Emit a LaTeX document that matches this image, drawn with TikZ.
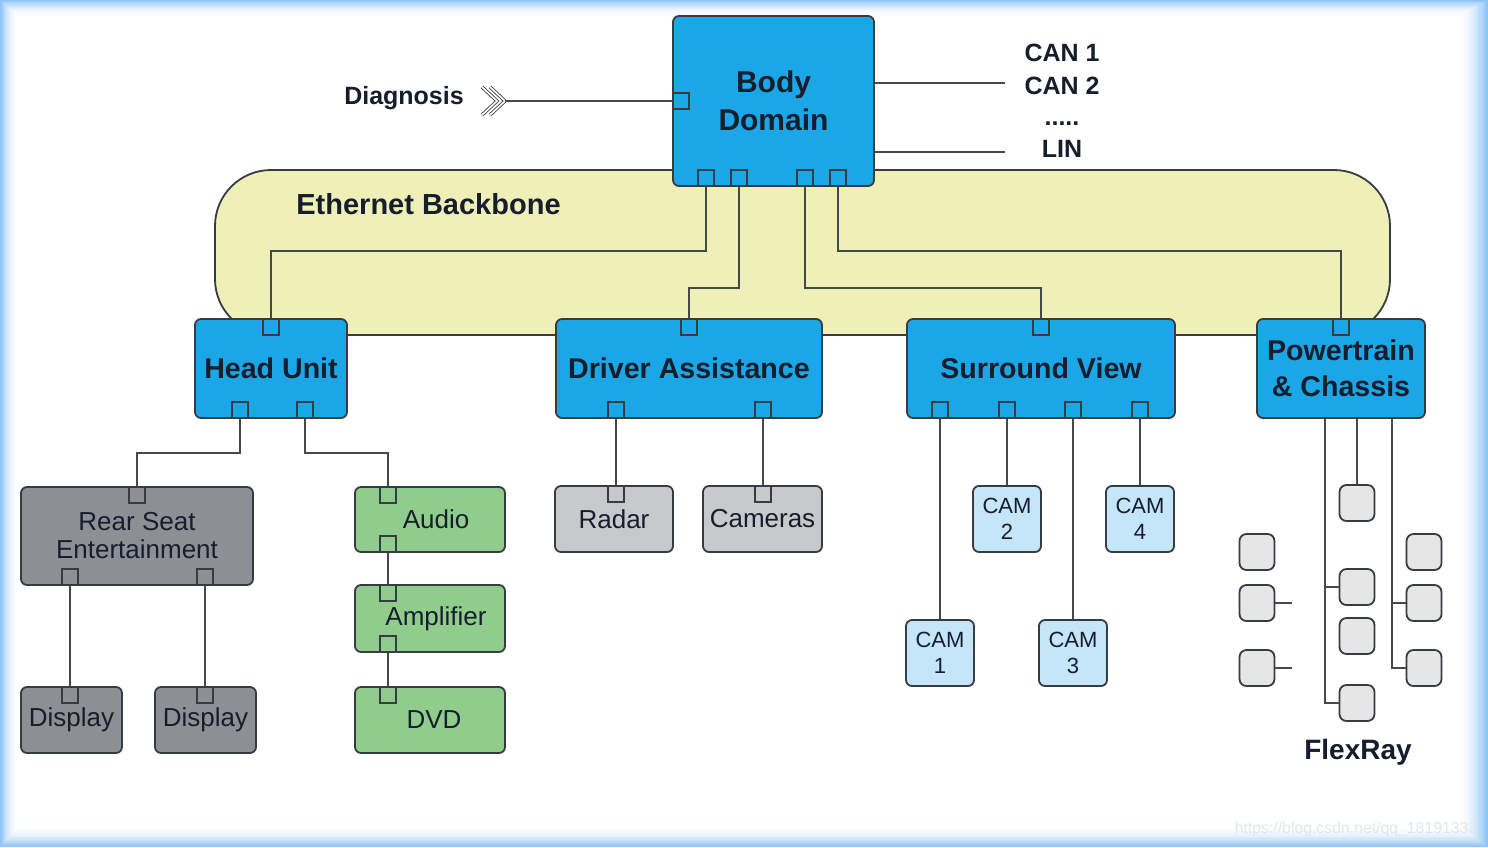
\documentclass[tikz,border=0pt]{standalone}
\usepackage{fontspec}
\setmainfont{Liberation Sans}
\usetikzlibrary{calc}

\definecolor{ecublue}{RGB}{27,167,230}
\definecolor{ethyellow}{RGB}{239,240,184}
\definecolor{rsegray}{RGB}{141,143,148}
\definecolor{sensgray}{RGB}{200,201,204}
\definecolor{audgreen}{RGB}{144,205,140}
\definecolor{camblue}{RGB}{196,230,248}
\definecolor{frgray}{RGB}{230,230,230}
\definecolor{edge}{RGB}{55,60,66}
\definecolor{wire}{RGB}{70,72,76}
\definecolor{ink}{RGB}{22,30,45}
\definecolor{frameblue}{RGB}{140,195,248}
\definecolor{wmark}{RGB}{226,230,237}

\begin{document}
\begin{tikzpicture}[x=0.5pt, y=-0.5pt,
    box/.style={draw=edge, line width=0.9pt, rounded corners=3pt, inner sep=0pt, text=ink, align=center},
    ecu/.style={box, fill=ecublue, font=\fontsize{14.3}{18}\selectfont\bfseries},
    rse/.style={box, fill=rsegray, font=\fontsize{13}{14}\selectfont},
    sensor/.style={box, fill=sensgray, font=\fontsize{13}{14}\selectfont},
    media/.style={box, fill=audgreen, minimum width=75pt, font=\fontsize{13}{14}\selectfont},
    cambox/.style={box, fill=camblue, minimum width=34pt, minimum height=33pt, font=\fontsize{11}{13}\selectfont},
    frbox/.style={box, fill=frgray, rounded corners=3.5pt, minimum width=17.5pt, minimum height=18pt},
    port/.style={draw=edge, line width=0.8pt, minimum size=8pt, inner sep=0pt},
    link/.style={draw=wire, line width=1pt},
    chev/.style={draw=wire, line width=0.45pt, double=white, double distance=0.8pt},
    buslabel/.style={text=ink, inner sep=0pt, font=\fontsize{12.5}{15}\selectfont\bfseries}]
  \useasboundingbox (0,0) rectangle (1488,847);

  % frame
  \foreach \k in {0,...,14} {
    \pgfmathsetmacro\pct{100*(1-\k/14)^2}
    \fill[frameblue!\pct!white] (18*\k/14,16*\k/14) rectangle (1488-30*\k/14,847-20*\k/14);
  }

  % backbone
  \node[draw=edge, line width=0.9pt, fill=ethyellow, rounded corners=28pt,
    minimum width=587.5pt, minimum height=82.5pt] (eth) at (802.5,252.5) {};
  \node[buslabel, font=\fontsize{14.5}{17}\selectfont\bfseries, anchor=west] (ethlabel) at (296,204) {Ethernet Backbone};

  % domain controllers
  \node[ecu, minimum width=100.5pt, minimum height=85pt, font=\fontsize{15}{19}\selectfont\bfseries] (bd) at (773.5,101) {Body\\Domain};
  \node[ecu, minimum width=76pt, minimum height=49.5pt] (hu) at (271,368.5) {Head Unit};
  \node[ecu, minimum width=133pt, minimum height=49.5pt] (da) at (689,368.5) {Driver Assistance};
  \node[ecu, minimum width=134pt, minimum height=49.5pt] (sv) at (1041,368.5) {Surround View};
  \node[ecu, minimum width=84pt, minimum height=49.5pt] (pc) at (1341,368.5) {Powertrain\\\& Chassis};

  % head unit devices
  \node[rse, minimum width=116pt, minimum height=49pt] (rse) at (137,536) {Rear Seat\\Entertainment};
  \node[rse, minimum width=50.5pt, minimum height=33pt] (disp1) at (71.5,720) {Display};
  \node[rse, minimum width=50.5pt, minimum height=33pt] (disp2) at (205.5,720) {Display};
  \node[media, minimum height=32.5pt] (aud) at (430,519.5) {\hspace*{6pt}Audio};
  \node[media, minimum height=33.5pt] (amp) at (430,618.5) {\hspace*{6pt}Amplifier};
  \node[media, minimum height=33pt] (dvd) at (430,720) {\hspace*{4pt}DVD};

  % sensors
  \node[sensor, minimum width=59pt, minimum height=33pt] (radar) at (614,519) {Radar};
  \node[sensor, minimum width=59.5pt, minimum height=33pt] (cams) at (762.5,519) {Cameras};
  \node[cambox] (cam1) at (940,653) {CAM\\1};
  \node[cambox] (cam2) at (1007,519) {CAM\\2};
  \node[cambox] (cam3) at (1073,653) {CAM\\3};
  \node[cambox] (cam4) at (1140,519) {CAM\\4};

  % flexray nodes
  \foreach \y [count=\i] in {503,587,636,703}
    \node[frbox] (fc\i) at (1357,\y) {};
  \foreach \y [count=\i] in {552,603,668} {
    \node[frbox] (fl\i) at (1257,\y) {};
    \node[frbox] (fr\i) at (1424,\y) {};
  }
  \node[buslabel, font=\fontsize{14}{16}\selectfont\bfseries] (flexray) at (1358,752) {FlexRay};

  % ports
  \node[port, anchor=west] (bdl) at (bd.west) {};
  \foreach \px [count=\i] in {706,739,805,838}
    \node[port, anchor=south] (bdb\i) at (bd.south -| \px,0) {};
  \node[port, anchor=north] (hut) at (hu.north) {};
  \node[port, anchor=south] (hub1) at (hu.south -| 240,0) {};
  \node[port, anchor=south] (hub2) at (hu.south -| 305,0) {};
  \node[port, anchor=north] (dat) at (da.north) {};
  \node[port, anchor=south] (dab1) at (da.south -| 616,0) {};
  \node[port, anchor=south] (dab2) at (da.south -| 763,0) {};
  \node[port, anchor=north] (svt) at (sv.north) {};
  \foreach \px [count=\i] in {940,1007,1073,1140}
    \node[port, anchor=south] (svb\i) at (sv.south -| \px,0) {};
  \node[port, anchor=north] (pct) at (pc.north) {};
  \node[port, anchor=north] (rset) at (rse.north) {};
  \node[port, anchor=south] (rseb1) at (rse.south -| 70,0) {};
  \node[port, anchor=south] (rseb2) at (rse.south -| 205,0) {};
  \node[port, anchor=north] (d1t) at (disp1.north -| 70,0) {};
  \node[port, anchor=north] (d2t) at (disp2.north -| 205,0) {};
  \node[port, anchor=north] (audt) at (aud.north -| 388,0) {};
  \node[port, anchor=south] (audb) at (aud.south -| 388,0) {};
  \node[port, anchor=north] (ampt) at (amp.north -| 388,0) {};
  \node[port, anchor=south] (ampb) at (amp.south -| 388,0) {};
  \node[port, anchor=north] (dvdt) at (dvd.north -| 388,0) {};
  \node[port, anchor=north] (radt) at (radar.north -| 616,0) {};
  \node[port, anchor=north] (camst) at (cams.north -| 763,0) {};

  % diagnosis and body buses
  \node[buslabel] (diaglabel) at (404,98) {Diagnosis};
  \coordinate (diag) at (bdl.west -| 505,0);
  \draw[chev] ($(diag)+(-15,-14)$) -- (diag) -- ($(diag)+(-15,14)$);
  \draw[chev] ($(diag)+(-23,-14)$) -- ($(diag)+(-8,0)$) -- ($(diag)+(-23,14)$);
  \draw[link] (bdl.west) -- (diag);
  \coordinate (can) at (1005,83);
  \coordinate (lin) at (1005,152);
  \draw[link] (bd.east |- can) -- (can);
  \draw[link] (bd.east |- lin) -- (lin);
  \node[buslabel] (can1) at (1062,53) {CAN 1};
  \node[buslabel] (can2) at (1062,86) {CAN 2};
  \node[buslabel] (dots) at (1062,124) {.....};
  \node[buslabel] (linlabel) at (1062,149) {LIN};

  % ethernet links
  \draw[link] (bdb1.south) -- ++(0,64) -| (hut.north);
  \draw[link] (bdb2.south) -- ++(0,101) -| (dat.north);
  \draw[link] (bdb3.south) -- ++(0,101) -| (svt.north);
  \draw[link] (bdb4.south) -- ++(0,64) -| (pct.north);

  % device links
  \draw[link] (hub1.south) -- ++(0,34) -| (rset.north);
  \draw[link] (hub2.south) -- ++(0,34) -| (audt.north);
  \draw[link] (rseb1.south) -- (d1t.north);
  \draw[link] (rseb2.south) -- (d2t.north);
  \draw[link] (audb.south) -- (ampt.north);
  \draw[link] (ampb.south) -- (dvdt.north);
  \draw[link] (dab1.south) -- (radt.north);
  \draw[link] (dab2.south) -- (camst.north);
  \foreach \i in {1,...,4}
    \draw[link] (svb\i.south) -- (cam\i.north);

  % flexray links
  \draw[link] ($(pc.south)+(-16,0)$) |- (fc4.west);
  \draw[link] ($(pc.south)+(-16,0)$) |- (fc2.west);
  \draw[link] ($(pc.south)+(16,0)$) -- (fc1.north);
  \draw[link] ($(pc.south)+(51,0)$) |- (fr3.west);
  \draw[link] ($(pc.south)+(51,0)$) |- (fr2.west);
  \draw[link] (fl2.east) -- ++(17,0);
  \draw[link] (fl3.east) -- ++(17,0);

  \node[text=wmark, font=\fontsize{7.9}{9}\selectfont] (wm) at (1356,829) {https://blog.csdn.net/qq\_18191333};
\end{tikzpicture}
\end{document}
